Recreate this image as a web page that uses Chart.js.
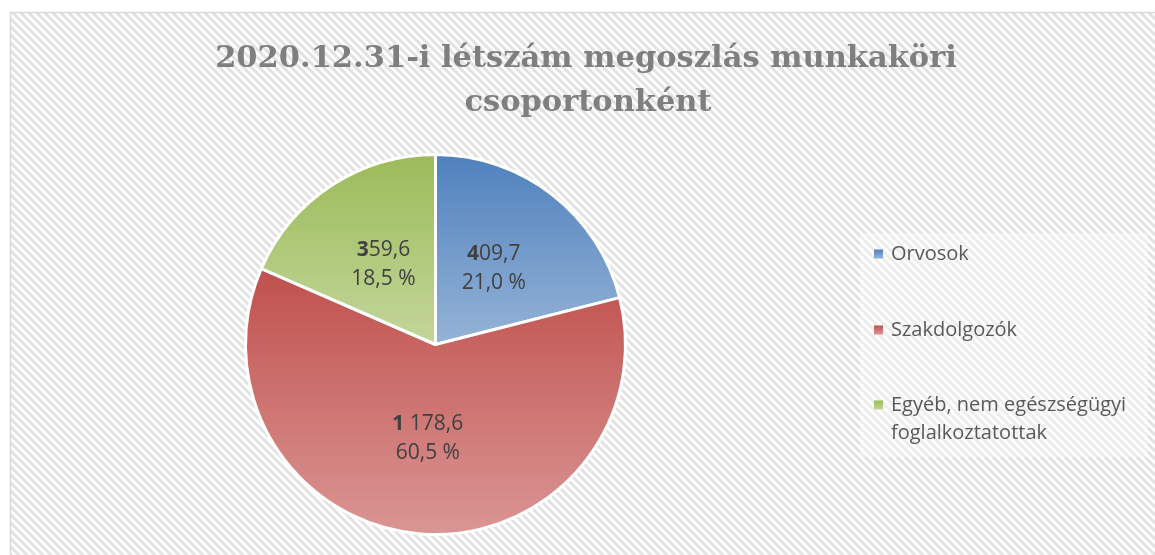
<!DOCTYPE html>
<html>
<head>
<meta charset="utf-8">
<script src="https://cdn.jsdelivr.net/npm/chart.js@4/dist/chart.umd.min.js"></script>
<style>
  html, body { margin: 0; padding: 0; background: #ffffff; }
  #c { display: block; }
</style>
</head>
<body>
<canvas id="c" width="1155" height="555"></canvas>
<script>
// ---- data ----
const titleLines = ['2020.12.31-i létszám megoszlás munkaköri', 'csoportonként'];
const categories = ['Orvosok', 'Szakdolgozók', 'Egyéb, nem egészségügyi foglalkoztatottak'];
const legendLines = [['Orvosok'], ['Szakdolgozók'], ['Egyéb, nem egészségügyi', 'foglalkoztatottak']];
const values = [409.7, 1178.6, 359.6];
const topColors = ['#4F81BD', '#C0504D', '#9BBB59'];
const bottomColors = ['#95B3D7', '#DA9694', '#C3D69B'];

// ---- helpers ----
function fmtValue(v) {
  const parts = v.toFixed(1).split('.');
  const intPart = parts[0].replace(/\B(?=(\d{3})+(?!\d))/g, ' ');
  return intPart + ',' + parts[1];
}
function fmtPct(v, total) {
  return (v / total * 100).toFixed(1).replace('.', ',') + ' %';
}

function sliceGradient(context) {
  const i = context.dataIndex;
  const el = context.element;
  if (!el || !isFinite(el.x) || !isFinite(el.outerRadius) || !isFinite(el.startAngle)) {
    return topColors[i];
  }
  const x = el.x, y = el.y, r = el.outerRadius;
  const s = el.startAngle, e = el.endAngle;
  let minY = y, maxY = y;
  const cand = [s, e];
  for (let k = -2; k <= 2; k++) {
    const a1 = -Math.PI / 2 + 2 * Math.PI * k;
    const a2 = Math.PI / 2 + 2 * Math.PI * k;
    if (a1 >= s && a1 <= e) cand.push(a1);
    if (a2 >= s && a2 <= e) cand.push(a2);
  }
  cand.forEach(a => {
    const py = y + r * Math.sin(a);
    minY = Math.min(minY, py);
    maxY = Math.max(maxY, py);
  });
  const g = context.chart.ctx.createLinearGradient(0, minY, 0, maxY);
  g.addColorStop(0, topColors[i]);
  g.addColorStop(1, bottomColors[i]);
  return g;
}

// hatch pattern
function makePattern(ctx) {
  const p = document.createElement('canvas');
  p.width = 8; p.height = 8;
  const pc = p.getContext('2d');
  pc.fillStyle = '#ffffff';
  pc.fillRect(0, 0, 8, 8);
  pc.strokeStyle = '#e2e2e2';
  pc.lineWidth = 3;
  for (let k = -1; k <= 1; k++) {
    pc.beginPath();
    pc.moveTo(-2 + k * 8, -2);
    pc.lineTo(10 + k * 8, 10);
    pc.stroke();
  }
  return ctx.createPattern(p, 'repeat');
}

const backgroundPlugin = {
  id: 'bgFrame',
  beforeDraw(chart) {
    const ctx = chart.ctx;
    ctx.save();
    ctx.fillStyle = '#ffffff';
    ctx.fillRect(0, 0, chart.width, chart.height);
    ctx.fillStyle = makePattern(ctx);
    ctx.fillRect(10, 12, chart.width - 10, chart.height - 12);
    ctx.strokeStyle = '#d9d9d9';
    ctx.lineWidth = 1.5;
    ctx.beginPath();
    ctx.moveTo(10.5, chart.height);
    ctx.lineTo(10.5, 12.5);
    ctx.lineTo(chart.width, 12.5);
    ctx.stroke();
    // legend backdrop
    ctx.fillStyle = 'rgba(255,255,255,0.4)';
    ctx.fillRect(860, 233, 288, 224);
    // title
    ctx.fillStyle = '#7f7f7f';
    ctx.font = 'bold 30.5px "DejaVu Serif"';
    ctx.textAlign = 'center';
    ctx.textBaseline = 'alphabetic';
    ctx.fillText(titleLines[0], 586, 67);
    ctx.fillText(titleLines[1], 588, 111);
    ctx.restore();
  }
};

const labelPlugin = {
  id: 'sliceLabels',
  afterDatasetsDraw(chart) {
    const ctx = chart.ctx;
    const meta = chart.getDatasetMeta(0);
    const data = chart.data.datasets[0].data;
    const total = data.reduce((a, b) => a + b, 0);
    ctx.save();
    ctx.fillStyle = '#404040';
    ctx.textBaseline = 'middle';
    meta.data.forEach((arc, i) => {
      const pt = arc.getCenterPoint();
      const txt = fmtValue(data[i]);
      const bold = txt.charAt(0);
      const rest = txt.slice(1);
      ctx.font = 'bold 21px "Open Sans"';
      const wb = ctx.measureText(bold).width;
      ctx.font = '21px "Open Sans"';
      const wr = ctx.measureText(rest).width;
      const x0 = pt.x - (wb + wr) / 2;
      ctx.textAlign = 'left';
      ctx.font = 'bold 21px "Open Sans"';
      ctx.fillText(bold, x0, pt.y - 15);
      ctx.font = '21px "Open Sans"';
      ctx.fillText(rest, x0 + wb, pt.y - 15);
      ctx.textAlign = 'center';
      ctx.fillText(fmtPct(data[i], total), pt.x, pt.y + 14);
    });
    ctx.restore();
  }
};

const legendPlugin = {
  id: 'sideLegend',
  afterDraw(chart) {
    const ctx = chart.ctx;
    const ys = [254, 330, 405];
    ctx.save();
    ctx.textBaseline = 'middle';
    ctx.textAlign = 'left';
    ctx.font = '20px "Open Sans"';
    legendLines.forEach((lines, i) => {
      const cy = ys[i];
      const g = ctx.createLinearGradient(0, cy - 4.5, 0, cy + 4.5);
      g.addColorStop(0, topColors[i]);
      g.addColorStop(1, bottomColors[i]);
      ctx.fillStyle = g;
      ctx.fillRect(874, cy - 4.5, 9, 9);
      ctx.fillStyle = '#595959';
      lines.forEach((ln, j) => {
        ctx.fillText(ln, 891, cy + j * 28);
      });
    });
    ctx.restore();
  }
};

const chart = new Chart(document.getElementById('c'), {
  type: 'pie',
  data: {
    labels: categories,
    datasets: [{
      data: values,
      backgroundColor: sliceGradient,
      borderColor: '#ffffff',
      borderWidth: 3
    }]
  },
  options: {
    responsive: false,
    animation: false,
    events: [],
    layout: { padding: { left: 244, right: 528, top: 153, bottom: 19 } },
    plugins: {
      legend: { display: false },
      title: { display: false },
      tooltip: { enabled: false }
    }
  },
  plugins: [backgroundPlugin, labelPlugin, legendPlugin]
});
chart.update();
</script>
</body>
</html>
